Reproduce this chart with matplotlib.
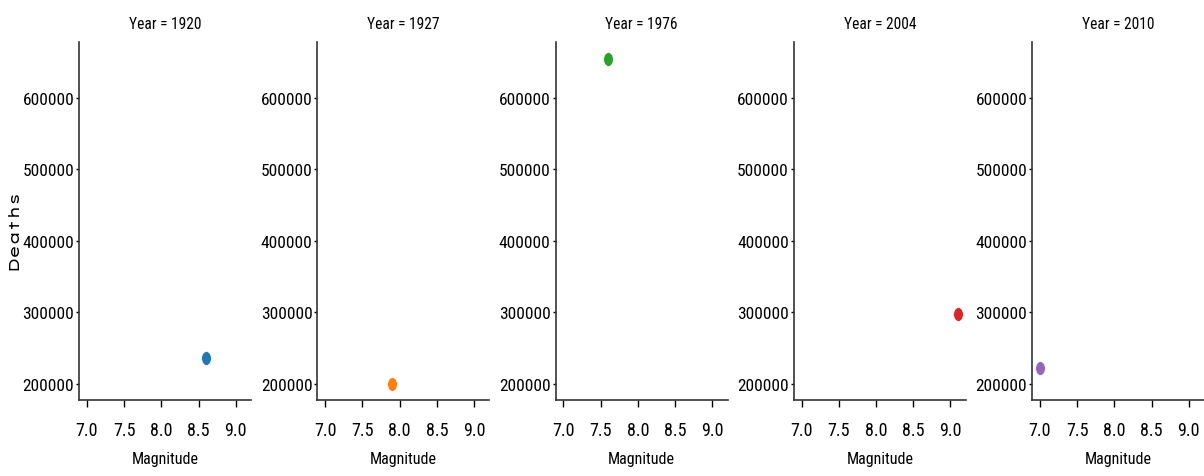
import matplotlib.pyplot as plt
from matplotlib import font_manager
from matplotlib.path import Path
from matplotlib.transforms import Affine2D

years = [1920, 1927, 1976, 2004, 2010]
magnitude = [8.6, 7.9, 7.6, 9.1, 7.0]
deaths = [235500, 200000, 655000, 297000, 222570]
colors = ["#1f77b4", "#ff7f0e", "#2ca02c", "#d62728", "#9467bd"]
xticks = [7.0, 7.5, 8.0, 8.5, 9.0]
yticks = [200000, 300000, 400000, 500000, 600000]

# the reference is squeezed sideways, so use a narrow face where there is one
plt.rcParams["font.family"] = ["Roboto Condensed", "Archivo Narrow", "DejaVu Sans"]
plt.rcParams["font.size"] = 12.5

# the rotated y label looks stretched instead, so a wide face for it
avail = {f.name for f in font_manager.fontManager.ttflist}
if "Lexend Zetta" in avail:
    ylab_font, ylab_size = "Lexend Zetta", 10.5
else:
    ylab_font, ylab_size = "DejaVu Sans", 14

# dots are slim ellipses for the same reason
ellipse = Path.unit_circle().transformed(Affine2D().scale(0.7, 1.0))

fig = plt.figure(figsize=(12.04, 4.77), dpi=100)
axes = []
for i in range(len(years)):
    left = (79 + i * 238.25) / 1204
    kw = {}
    if axes:
        kw = {"sharex": axes[0], "sharey": axes[0]}
    ax = fig.add_axes([left, 0.1593, 172 / 1204, 0.750], **kw)
    axes.append(ax)

for i, ax in enumerate(axes):
    ax.scatter([magnitude[i]], [deaths[i]], s=100, marker=ellipse,
               color=colors[i], edgecolor="white", linewidth=0.5, zorder=3)
    ax.set_title(f"Year = {years[i]}", fontsize=11.2, pad=10)
    ax.set_xlabel("Magnitude", fontsize=11.5, labelpad=9)
    ax.set_xticks(xticks)
    ax.set_xticklabels([f"{t:.1f}" for t in xticks], fontsize=13)
    ax.set_yticks(yticks)
    ax.xaxis.set_tick_params(direction="out", length=5, width=1, pad=10, bottom=True)
    ax.yaxis.set_tick_params(direction="out", length=2.5, width=1, pad=1, left=True,
                             labelleft=True)
    ax.spines["top"].set_visible(False)
    ax.spines["right"].set_visible(False)
    for s in ("left", "bottom"):
        ax.spines[s].set_linewidth(1.2)
        ax.spines[s].set_color("#333333")

axes[0].set_ylabel("Deaths", family=ylab_font, fontsize=ylab_size)
axes[0].yaxis.set_label_coords(-0.34, 0.48)

fig.savefig("out.png", dpi=100)
